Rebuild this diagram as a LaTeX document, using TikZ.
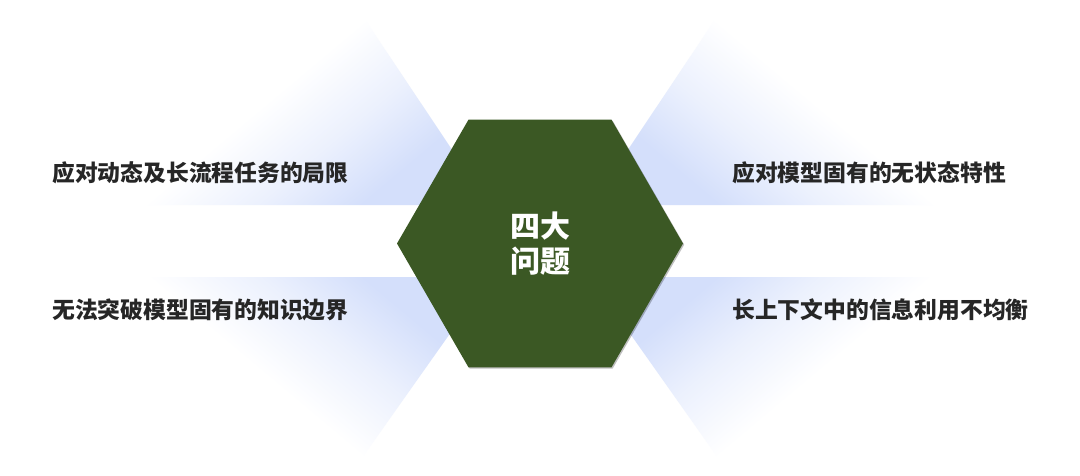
\documentclass[tikz,border=0pt]{standalone}
\usepackage{fontspec}
\newfontfamily\cjk{Noto Sans CJK SC}
\usetikzlibrary{shapes.geometric,shadows}
\definecolor{hexgreen}{RGB}{59,88,36}
\definecolor{wblue}{RGB}{212,223,251}
\definecolor{txtgray}{RGB}{38,38,38}
\pgfdeclarehorizontalshading{wfade}{100bp}{color(0bp)=(white); color(52bp)=(white); color(63bp)=(white!55!wblue); color(73bp)=(wblue); color(100bp)=(wblue)}
\tikzset{
  wedge/.style={shading=wfade, draw=none},
  label/.style={font=\cjk\bfseries\fontsize{22.8}{26}\selectfont, text=txtgray, anchor=west, inner sep=0pt},
  hexnode/.style={regular polygon, regular polygon sides=6, minimum size=286pt, inner sep=0pt, outer sep=0pt,
    fill=hexgreen, draw=none, text=white, align=center,
    font=\cjk\bfseries\fontsize{30}{35}\selectfont,
    drop shadow={shadow xshift=1.2pt, shadow yshift=-1.2pt, opacity=0.25, fill=black}}
}
\begin{document}
\begin{tikzpicture}[x=1pt,y=-1pt]
\useasboundingbox (0,0) rectangle (1080,475);
\fill[white] (0,0) rectangle (1080,475);
% background wedges
\shade[wedge, shading angle=-50] (489,205) -- (352,0) -- (0,0) -- (0,205) -- cycle;
\shade[wedge, shading angle=-130] (591,205) -- (728,0) -- (1080,0) -- (1080,205) -- cycle;
\shade[wedge, shading angle=50] (490,277) -- (350,475) -- (0,475) -- (0,277) -- cycle;
\shade[wedge, shading angle=130] (590,277) -- (730,475) -- (1080,475) -- (1080,277) -- cycle;
% hexagon
\node[hexnode] (hex) at (540,243.5) {四大\\问题};
% labels
\node[label] (l1) at (52,172.5) {应对动态及长流程任务的局限};
\node[label] (l2) at (52,310) {无法突破模型固有的知识边界};
\node[label] (r1) at (732,173) {应对模型固有的无状态特性};
\node[label] (r2) at (732,310) {长上下文中的信息利用不均衡};
\end{tikzpicture}
\end{document}
